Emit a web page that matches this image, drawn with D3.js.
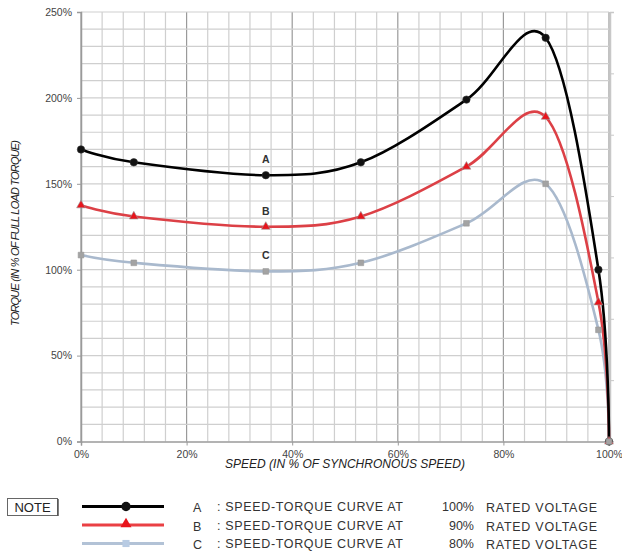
<!DOCTYPE html>
<html>
<head>
<meta charset="utf-8">
<script src="https://cdn.jsdelivr.net/npm/d3@7"></script>
<style>
  body { margin: 0; background: #fff; }
  text { font-family: "Liberation Sans", Arial, sans-serif; }
</style>
</head>
<body>
<svg id="chart" width="622" height="551"></svg>
<script>
// values
let speed = [0, 10, 35, 53, 73, 88, 98, 100];
let torqueA = [170, 162.5, 155, 162.5, 199, 235, 100, 0];
let torqueB = [137.5, 131, 125, 131, 160, 189, 81, 0];
let torqueC = [108.5, 104, 99, 104, 127, 150, 65, 0];
let curveNames = ["A", "B", "C"];
let voltages = ["100%", "90%", "80%"];
let xTicks = [0, 20, 40, 60, 80, 100];
let yTicks = [0, 50, 100, 150, 200, 250];

let width = 622, height = 551;
let plotLeft = 81, plotRight = 609, plotTop = 12, plotBottom = 441.5;
let colors = ["#000000", "#dc4046", "#a9b9cd"];
let markerFill = ["#111111", "#e8141c", "#a3a3a3"];

let svg = d3.select("#chart");
svg.append("rect").attr("width", width).attr("height", height).attr("fill", "#fff");

let x = d3.scaleLinear().domain([0, 100]).range([plotLeft, plotRight]);
let y = d3.scaleLinear().domain([0, 250]).range([plotBottom, plotTop]);
let yRight = d3.scaleLinear().domain([0, 7]).range([plotBottom, plotTop]);

// grid
let g = svg.append("g");
d3.range(0, 101, 4).forEach(v => {
    g.append("line")
        .attr("x1", x(v)).attr("x2", x(v))
        .attr("y1", y(0)).attr("y2", y(250))
        .style("stroke", v % 20 == 0 ? "#9a9a9a" : "#cfcfcf")
        .style("stroke-width", 1.2)
});
d3.range(10, 251, 10).forEach(v => {
    g.append("line")
        .attr("x1", x(0)).attr("x2", x(100))
        .attr("y1", y(v)).attr("y2", y(v))
        .style("stroke", "#cfcfcf")
        .style("stroke-width", 1.2)
});

// axes
let xAxis = svg.append("g")
    .attr("transform", "translate(0," + y(0) + ")")
    .call(d3.axisBottom(x).tickValues(xTicks).tickSize(4).tickFormat(d => d + "%"));
let yAxis = svg.append("g")
    .attr("transform", "translate(" + x(0) + ",0)")
    .call(d3.axisLeft(y).tickValues(yTicks).tickSize(4).tickFormat(d => d + "%"));
let rAxis = svg.append("g")
    .attr("transform", "translate(" + (x(100) + 1) + ",0)")
    .call(d3.axisRight(yRight).tickValues(d3.range(1, 7)).tickSize(4).tickFormat(""));
[xAxis, yAxis, rAxis].forEach(a => {
    a.select(".domain").style("stroke", "#9a9a9a").style("stroke-width", 1.5);
    a.selectAll(".tick line").style("stroke", "#9a9a9a");
    a.selectAll("text").style("font-size", "10.5px").style("fill", "#444");
});
rAxis.select(".domain").style("stroke", "#c8c8c8");
rAxis.selectAll(".tick line").style("stroke", "#c8c8c8");
xAxis.selectAll("text").attr("dy", "0.9em");
yAxis.selectAll("text").attr("x", -9);

// axis titles
svg.append("text")
    .attr("x", 345).attr("y", 468)
    .attr("text-anchor", "middle")
    .style("font-size", "12px")
    .style("font-style", "italic")
    .style("fill", "#222")
    .text("SPEED (IN % OF SYNCHRONOUS SPEED)");
svg.append("text")
    .attr("transform", "translate(19,233) rotate(-90)")
    .attr("text-anchor", "middle")
    .attr("textLength", 186)
    .style("font-size", "11px")
    .style("font-style", "italic")
    .style("fill", "#222")
    .text("TORQUE (IN % OF FULL LOAD TORQUE)");

// curves
let series = [torqueA, torqueB, torqueC];
let line = d3.line()
    .x(d => x(d[0]))
    .y(d => y(d[1]))
    .curve(d3.curveCardinal.tension(0));

[2, 1, 0].forEach(i => {
    svg.append("path")
        .datum(speed.map((s, j) => [s, series[i][j]]))
        .attr("d", line)
        .style("fill", "none")
        .style("stroke", colors[i])
        .style("stroke-width", 2.6)
});

function marker(sel, i, size) {
    if (i == 0) {
        return sel.append("path").attr("d", d3.symbol(d3.symbolCircle, size * 3.1)());
    } else if (i == 1) {
        return sel.append("path").attr("d", d3.symbol(d3.symbolTriangle, size * 2.4)());
    }
    return sel.append("path").attr("d", d3.symbol(d3.symbolSquare, size * 2.3)());
}

[0, 1, 2].forEach(i => {
    speed.forEach((s, j) => {
        let m = svg.append("g").attr("transform", "translate(" + x(s) + "," + y(series[i][j]) + ")");
        marker(m, i, 14)
            .style("fill", markerFill[i])
            .style("stroke", i == 0 ? "#333" : "#999")
            .style("stroke-width", 0.6)
    });
});

// curve letters
[0, 1, 2].forEach(i => {
    svg.append("text")
        .attr("x", x(speed[2]))
        .attr("y", y(series[i][2]) - 12)
        .attr("text-anchor", "middle")
        .style("font-size", "10.5px")
        .style("font-weight", "bold")
        .style("fill", "#333")
        .text(curveNames[i]);
});

// legend
svg.append("rect")
    .attr("x", 7.5).attr("y", 498.5)
    .attr("width", 50).attr("height", 17)
    .style("fill", "#fff")
    .style("stroke", "#666")
    .style("stroke-width", 1);
svg.append("line")
    .attr("x1", 58).attr("x2", 58).attr("y1", 499).attr("y2", 516)
    .style("stroke", "#555").style("stroke-width", 1.5);
svg.append("text")
    .attr("x", 32.5).attr("y", 511.5)
    .attr("text-anchor", "middle")
    .style("font-size", "13px")
    .style("fill", "#222")
    .text("NOTE");

let legendFill = ["#111111", "#e8141c", "#b8cbe3"];
let legendColors = ["#000000", "#ea4044", "#b2c2d6"];
curveNames.forEach((name, i) => {
    let ly = 506.5 + i * 18.5;
    svg.append("line")
        .attr("x1", 82).attr("x2", 164)
        .attr("y1", ly).attr("y2", ly)
        .style("stroke", legendColors[i])
        .style("stroke-width", 3);
    let m = svg.append("g").attr("transform", "translate(126," + (ly - (i == 1 ? 1 : 0)) + ")");
    marker(m, i, 22).style("fill", legendFill[i]);

    svg.append("text").attr("x", 193).attr("y", ly + 5.5)
        .style("font-size", "12.5px").style("fill", "#333").text(name);
    svg.append("text").attr("x", 217).attr("y", ly + 4.5)
        .attr("textLength", 186)
        .style("font-size", "12.5px").style("fill", "#333").text(": SPEED-TORQUE CURVE AT");
    svg.append("text").attr("x", 474).attr("y", ly + 4.5)
        .attr("text-anchor", "end")
        .style("font-size", "12.5px").style("fill", "#333").text(voltages[i]);
    svg.append("text").attr("x", 486).attr("y", ly + 5.5)
        .attr("textLength", 111)
        .style("font-size", "12.5px").style("fill", "#333").text("RATED VOLTAGE");
});
</script>
</body>
</html>
